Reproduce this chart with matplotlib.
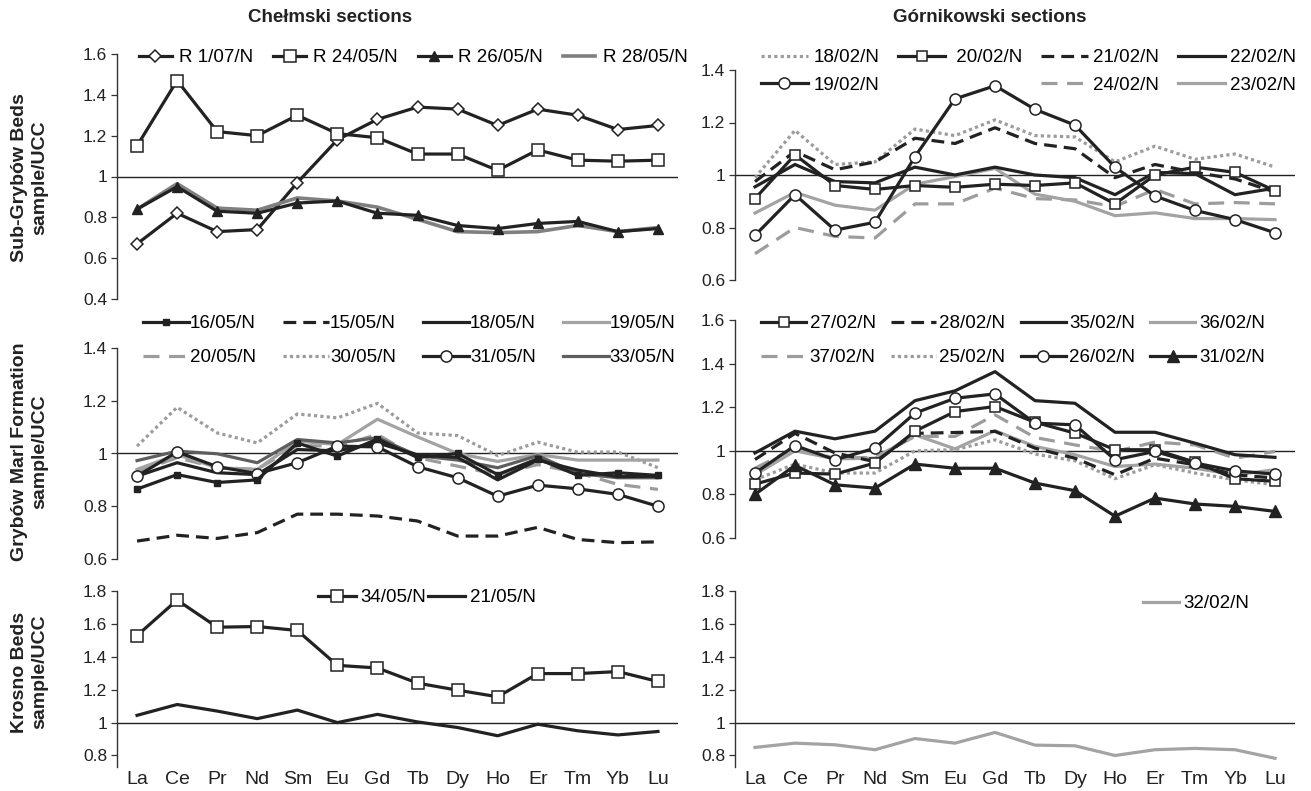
import matplotlib
matplotlib.use('Agg')
import matplotlib.pyplot as plt
from matplotlib.lines import Line2D

plt.rcParams['font.family'] = ['Liberation Sans', 'DejaVu Sans']

W, H = 1311, 791

# REE order on the x axis
elements = ['La', 'Ce', 'Pr', 'Nd', 'Sm', 'Eu', 'Gd', 'Tb', 'Dy', 'Ho', 'Er', 'Tm', 'Yb', 'Lu']

# Sub-Grybow Beds, Chelmski
r_1_07 = [0.67, 0.82, 0.73, 0.74, 0.97, 1.18, 1.28, 1.34, 1.33, 1.25, 1.33, 1.30, 1.23, 1.25]
r_24_05 = [1.15, 1.47, 1.22, 1.20, 1.30, 1.21, 1.19, 1.11, 1.11, 1.03, 1.13, 1.08, 1.075, 1.08]
r_26_05 = [0.84, 0.95, 0.83, 0.82, 0.87, 0.88, 0.82, 0.81, 0.76, 0.745, 0.77, 0.78, 0.73, 0.745]
r_28_05 = [0.84, 0.965, 0.845, 0.835, 0.895, 0.88, 0.85, 0.79, 0.73, 0.725, 0.73, 0.76, 0.73, 0.75]

# Sub-Grybow Beds, Gornikowski
g18 = [0.99, 1.17, 1.04, 1.05, 1.175, 1.15, 1.21, 1.15, 1.145, 1.05, 1.11, 1.06, 1.08, 1.03]
g20 = [0.91, 1.077, 0.96, 0.945, 0.96, 0.953, 0.965, 0.96, 0.97, 0.89, 1.0, 1.03, 1.01, 0.94]
g21 = [0.975, 1.09, 1.02, 1.05, 1.14, 1.12, 1.18, 1.12, 1.10, 0.99, 1.04, 1.01, 0.985, 0.935]
g22 = [0.955, 1.04, 0.975, 0.97, 1.03, 1.0, 1.03, 1.0, 0.99, 0.925, 1.01, 1.005, 0.925, 0.95]
g19 = [0.77, 0.925, 0.79, 0.82, 1.07, 1.29, 1.34, 1.25, 1.19, 1.03, 0.92, 0.865, 0.83, 0.78]
g24 = [0.70, 0.80, 0.766, 0.76, 0.89, 0.89, 0.95, 0.91, 0.905, 0.88, 0.945, 0.89, 0.895, 0.89]
g23 = [0.855, 0.934, 0.885, 0.866, 0.965, 0.994, 1.025, 0.927, 0.90, 0.845, 0.856, 0.834, 0.834, 0.83]

# Grybow Marl Formation, Chelmski
c16 = [0.865, 0.92, 0.89, 0.90, 1.04, 0.99, 1.055, 0.985, 1.0, 0.92, 0.98, 0.917, 0.927, 0.917]
c15 = [0.668, 0.69, 0.678, 0.70, 0.77, 0.77, 0.763, 0.744, 0.687, 0.687, 0.72, 0.674, 0.662, 0.665]
c18 = [0.914, 0.965, 0.927, 0.92, 1.015, 1.01, 1.04, 0.995, 0.985, 0.90, 0.975, 0.937, 0.912, 0.914]
c19 = [0.94, 0.996, 0.946, 0.94, 1.047, 1.034, 1.13, 1.063, 1.0, 0.97, 0.996, 0.975, 0.975, 0.975]
c20 = [0.93, 0.984, 0.946, 0.94, 1.03, 1.028, 1.072, 0.984, 0.952, 0.92, 0.958, 0.927, 0.883, 0.864]
c30 = [1.028, 1.175, 1.078, 1.04, 1.15, 1.135, 1.19, 1.078, 1.068, 0.992, 1.043, 1.005, 1.006, 0.946]
c31 = [0.914, 1.006, 0.95, 0.924, 0.965, 1.028, 1.025, 0.95, 0.908, 0.838, 0.88, 0.866, 0.845, 0.80]
c33 = [0.973, 1.009, 0.999, 0.965, 1.053, 1.04, 1.06, 0.992, 0.975, 0.946, 0.992, 0.924, 0.908, 0.908]

# Grybow Marl Formation, Gornikowski
g27 = [0.847, 0.898, 0.893, 0.944, 1.09, 1.18, 1.203, 1.131, 1.081, 1.005, 1.005, 0.948, 0.872, 0.86]
g28 = [0.96, 1.08, 0.99, 0.95, 1.08, 1.084, 1.089, 1.012, 0.966, 0.89, 0.966, 0.936, 0.89, 0.875]
g35 = [0.99, 1.09, 1.055, 1.09, 1.23, 1.275, 1.363, 1.23, 1.218, 1.085, 1.085, 1.035, 0.982, 0.97]
g36 = [0.89, 1.0, 0.963, 0.966, 1.073, 1.009, 1.092, 1.02, 0.982, 0.928, 0.939, 0.92, 0.89, 0.913]
g37 = [0.92, 1.012, 0.966, 0.97, 1.066, 1.066, 1.165, 1.061, 1.027, 0.997, 1.04, 1.027, 0.966, 0.997]
g25 = [0.867, 0.939, 0.898, 0.898, 1.0, 1.005, 1.05, 0.985, 0.954, 0.872, 0.936, 0.898, 0.867, 0.844]
g26 = [0.898, 1.024, 0.959, 1.012, 1.173, 1.241, 1.261, 1.127, 1.119, 0.959, 0.997, 0.944, 0.908, 0.893]
g31 = [0.80, 0.933, 0.844, 0.829, 0.939, 0.92, 0.92, 0.852, 0.817, 0.70, 0.783, 0.756, 0.745, 0.722]

# Krosno Beds
c34 = [1.529, 1.745, 1.58, 1.584, 1.56, 1.348, 1.332, 1.24, 1.197, 1.157, 1.298, 1.298, 1.31, 1.25]
c21 = [1.044, 1.11, 1.07, 1.024, 1.076, 1.0, 1.05, 1.004, 0.97, 0.92, 0.99, 0.95, 0.925, 0.946]
g32 = [0.849, 0.875, 0.865, 0.835, 0.903, 0.875, 0.94, 0.863, 0.859, 0.80, 0.835, 0.843, 0.835, 0.783]

BLACK = '#222222'
GREY = '#808080'
DGREY = '#5e5e5e'
LGREY = '#a3a3a3'
DOT = '#9c9c9c'

LW = 2.3
DASH = (0, (4, 2.2))
GDASH = (0, (5, 3))
DOTS = (0, (1, 1))

x = list(range(len(elements)))

fig = plt.figure(figsize=(W / 100, H / 100), dpi=100)


def make_ax(x0, x1, y0, y1, ylim, ticks, show_x=False):
    ax = fig.add_axes([x0 / W, 1 - y1 / H, (x1 - x0) / W, (y1 - y0) / H])
    ax.set_xlim(-0.5, 13.5)
    ax.set_ylim(*ylim)
    ax.set_yticks(ticks)
    ax.set_yticklabels(['1' if abs(t - 1) < 1e-9 else '%.1f' % t for t in ticks])
    for s in ['top', 'right', 'bottom']:
        ax.spines[s].set_visible(False)
    ax.spines['left'].set_color('#333333')
    ax.spines['left'].set_linewidth(1.0)
    ax.tick_params(axis='y', length=4, width=0.9, color='#333333', pad=3,
                   labelsize=12.5, labelcolor='#222222')
    ax.axhline(1, color='#222222', lw=1.0, zorder=1)
    ax.set_xticks(x)
    if show_x:
        ax.set_xticklabels(elements)
        ax.tick_params(axis='x', length=0, pad=3, labelsize=14, labelcolor='#222222')
    else:
        ax.tick_params(axis='x', length=0, labelbottom=False)
    ax.patch.set_alpha(0)
    return ax


def put_legend(ax, handles, labels, left, top, ncol, hl, tp, cs, ls=0.5):
    ax.legend(handles, labels, loc='upper left', bbox_to_anchor=(left / W, 1 - top / H),
              bbox_transform=fig.transFigure, ncol=ncol, frameon=False, borderpad=0,
              borderaxespad=0, handlelength=hl, handletextpad=tp, columnspacing=cs,
              labelspacing=ls, numpoints=1, fontsize=13.5)


def plot(ax, y, **kw):
    kw.setdefault('lw', LW)
    kw.setdefault('color', BLACK)
    return ax.plot(x, y, **kw)[0]


open_m = dict(markerfacecolor='white', markeredgecolor=BLACK, markeredgewidth=1.1)

# ---- top left
ax1 = make_ax(117, 678, 54, 299, (0.4, 1.6), [0.4, 0.6, 0.8, 1.0, 1.2, 1.4, 1.6])
h1 = plot(ax1, r_1_07, marker='D', ms=6.5, **open_m)
h2 = plot(ax1, r_24_05, marker='s', ms=9, **open_m)
h4 = plot(ax1, r_28_05, color=GREY, lw=2.6)
h3 = plot(ax1, r_26_05, marker='^', ms=7.5, markerfacecolor=BLACK, markeredgecolor=BLACK)
put_legend(ax1, [h1, h2, h3, h4], ['R 1/07/N', 'R 24/05/N', 'R 26/05/N', 'R 28/05/N'],
           139, 49, 4, 1.75, 0.4, 1.05)

# ---- top right
ax2 = make_ax(735, 1295, 70, 280, (0.6, 1.4), [0.6, 0.8, 1.0, 1.2, 1.4])
a18 = plot(ax2, g18, color=DOT, ls=DOTS)
a24 = plot(ax2, g24, color=DOT, ls=GDASH)
a23 = plot(ax2, g23, color=LGREY)
a21 = plot(ax2, g21, ls=DASH)
a22 = plot(ax2, g22)
a20 = plot(ax2, g20, marker='s', ms=6.5, **open_m)
a19 = plot(ax2, g19, marker='o', ms=8, **open_m)
blank = Line2D([], [], color='none')
put_legend(ax2, [a18, a19, a20, blank, a21, a24, a22, a23],
           ['18/02/N', '19/02/N', ' 20/02/N', '', '21/02/N', '24/02/N', '22/02/N', '23/02/N'],
           761, 49, 4, 2.5, 0.3, 1.0, ls=0.55)

# ---- middle left
ax3 = make_ax(117, 678, 348, 559, (0.6, 1.4), [0.6, 0.8, 1.0, 1.2, 1.4])
b30 = plot(ax3, c30, color=DOT, ls=DOTS)
b20 = plot(ax3, c20, color=DOT, ls=GDASH)
b19 = plot(ax3, c19, color=LGREY)
b33 = plot(ax3, c33, color=DGREY)
b15 = plot(ax3, c15, ls=DASH)
b18 = plot(ax3, c18)
b31 = plot(ax3, c31, marker='o', ms=8, **open_m)
b16 = plot(ax3, c16, marker='s', ms=5, markerfacecolor=BLACK, markeredgecolor=BLACK)
put_legend(ax3, [b16, b20, b15, b30, b18, b31, b19, b33],
           ['16/05/N', '20/05/N', '15/05/N', '30/05/N', '18/05/N', '31/05/N', '19/05/N', '33/05/N'],
           143, 315, 4, 2.45, 0.05, 1.45, ls=0.9)

# ---- middle right
ax4 = make_ax(735, 1295, 320, 538, (0.6, 1.6), [0.6, 0.8, 1.0, 1.2, 1.4, 1.6])
d25 = plot(ax4, g25, color=DOT, ls=DOTS)
d37 = plot(ax4, g37, color=DOT, ls=GDASH)
d36 = plot(ax4, g36, color=LGREY)
d28 = plot(ax4, g28, ls=DASH)
d35 = plot(ax4, g35)
d27 = plot(ax4, g27, marker='s', ms=7, **open_m)
d26 = plot(ax4, g26, marker='o', ms=8, **open_m)
d31 = plot(ax4, g31, marker='^', ms=8.5, markerfacecolor=BLACK, markeredgecolor=BLACK)
put_legend(ax4, [d27, d37, d28, d25, d35, d26, d36, d31],
           ['27/02/N', '37/02/N', '28/02/N', '25/02/N', '35/02/N', '26/02/N', '36/02/N', '31/02/N'],
           761, 315, 4, 2.4, 0.2, 0.8, ls=0.9)

# ---- bottom left
ax5 = make_ax(117, 678, 591, 767, (0.73, 1.8), [0.8, 1.0, 1.2, 1.4, 1.6, 1.8], show_x=True)
e21 = plot(ax5, c21)
e34 = plot(ax5, c34, marker='s', ms=8, **open_m)
put_legend(ax5, [e34, e21], ['34/05/N', '21/05/N'], 318, 589, 2, 2.0, 0.25, 0.1)

# ---- bottom right
ax6 = make_ax(735, 1295, 591, 767, (0.73, 1.8), [0.8, 1.0, 1.2, 1.4, 1.6, 1.8], show_x=True)
f32 = plot(ax6, g32, color=LGREY)
put_legend(ax6, [f32], ['32/02/N'], 1143, 595, 1, 1.9, 0.25, 0.5)

# titles and row labels
fig.text(330 / W, 1 - 18 / H, 'Chełmski sections', ha='center', va='center',
         fontsize=13.5, fontweight='bold', color='#222222')
fig.text(990 / W, 1 - 18 / H, 'Górnikowski sections', ha='center', va='center',
         fontsize=13.5, fontweight='bold', color='#222222')

row_labels = ['Sub-Grybów Beds\nsample/UCC', 'Grybów Marl Formation\nsample/UCC',
              'Krosno Beds\nsample/UCC']
row_centres = [178, 452, 672]
for lab, yc in zip(row_labels, row_centres):
    fig.text(30 / W, 1 - yc / H, lab, rotation=90, ha='center', va='center',
             fontsize=14, fontweight='bold', color='#222222', linespacing=1.25,
             family=['Liberation Sans Narrow', 'Liberation Sans', 'DejaVu Sans'])

fig.savefig('out.png', dpi=100, facecolor='white')
